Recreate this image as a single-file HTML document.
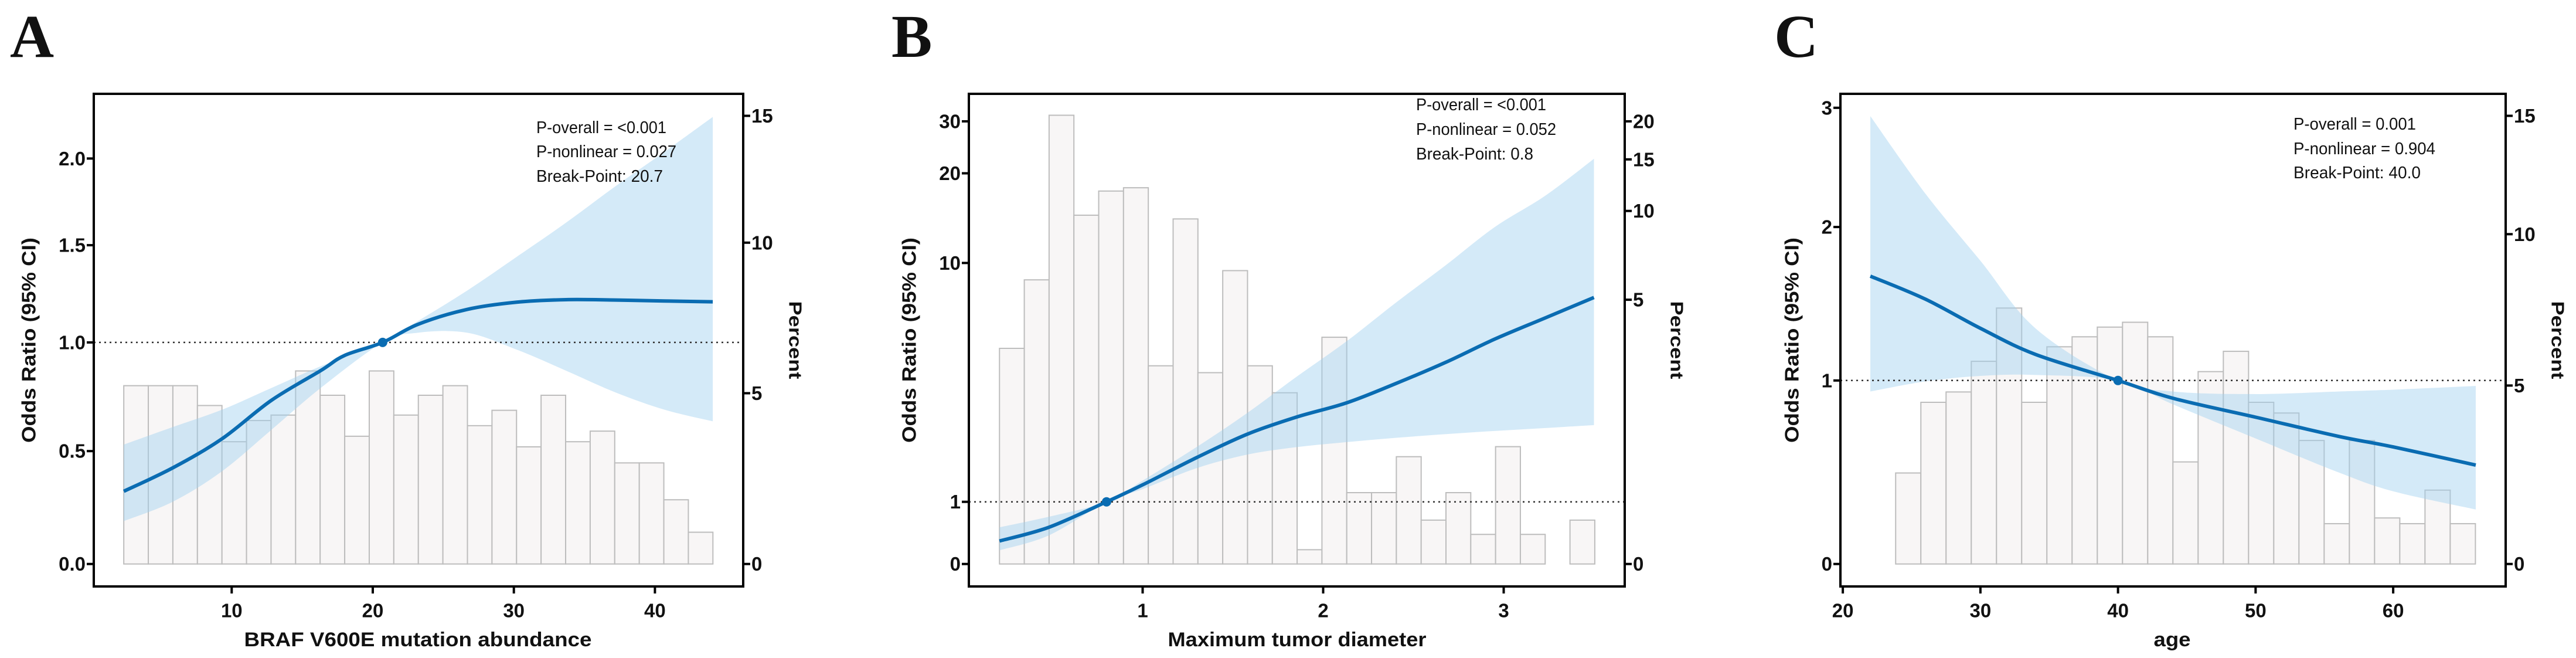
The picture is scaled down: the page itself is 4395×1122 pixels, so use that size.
<!DOCTYPE html>
<html><head><meta charset="utf-8"><style>
html,body{margin:0;padding:0;background:#fff;}
svg{display:block;}
text{font-family:"Liberation Sans",Arial,sans-serif;fill:#111;}
</style></head><body>
<svg id="fig" width="4395" height="1122" viewBox="0 0 4395 1122" xmlns="http://www.w3.org/2000/svg"></svg>
<script>
// ---------- Panel A data ----------
const aOrTicks=[0,0.5,1,1.5,2];
const aPctTicks=[0,5,10,15];
const aXTicks=[10,20,30,40];
const aBinStart=2.35, aBinWidth=1.74;
const aBarPct=[5.25,5.25,5.25,4.64,3.58,4.20,4.36,5.74,4.94,3.74,5.74,4.36,4.94,5.25,4.05,4.50,3.43,4.94,3.58,3.89,2.96,2.96,1.88,0.93];
const aCurveX=[2.35,5.8,9.3,12.8,16.3,18.0,20.7,23.2,26.7,30.2,33.7,37.2,40.7,44.1];
const aCurveOR=[0.322,0.425,0.556,0.733,0.870,0.940,1.0,1.093,1.17,1.207,1.22,1.218,1.213,1.209];
const aCIx=[2.35,5.8,9.3,12.8,16.3,20.7,23.2,26.7,30.2,33.7,37.2,40.7,44.1];
const aCIupper=[0.53,0.61,0.69,0.79,0.89,1.0,1.11,1.267,1.44,1.63,1.84,2.04,2.24];
const aCIlower=[0.19,0.275,0.41,0.597,0.79,1.0,1.05,1.05,0.967,0.87,0.77,0.69,0.637];
// ---------- Panel B data ----------
const bOrTicks=[0,1,10,20,30];
const bPctTicks=[0,5,10,15,20];
const bXTicks=[1,2,3];
const bBinStart=0.207, bBinWidth=0.1374;
const bBarPct=[4.08,6.12,20.8,9.76,11.93,12.25,3.75,9.55,3.62,6.64,3.75,3.24,0.27,4.29,1.35,1.35,2.03,0.83,1.35,0.56,2.22,0.56,0,0.83];
const bCurveX=[0.207,0.48,0.80,1.0,1.30,1.58,1.85,2.13,2.40,2.68,2.95,3.23,3.50];
const bCurveOR=[0.37,0.59,1.0,1.64,2.67,3.55,4.19,4.73,5.45,6.26,7.13,7.93,8.7];
const bCIupper=[0.59,0.76,1.0,1.8,3.07,4.35,5.7,7.05,8.49,9.92,14.0,17.5,22.8];
const bCIlower=[0.22,0.46,1.0,1.48,2.27,2.78,3.06,3.25,3.41,3.55,3.67,3.78,3.89];
// ---------- Panel C data ----------
const cOrTicks=[0,1,2,3];
const cPctTicks=[0,5,10,15];
const cXTicks=[20,30,40,50,60];
const cBinStart=23.84, cBinWidth=1.832;
const cBarPct=[2.55,4.53,4.82,5.80,7.56,4.53,6.28,6.61,6.93,7.09,6.61,2.86,5.46,6.13,4.53,4.23,3.46,1.13,3.46,1.29,1.13,2.07,1.13];
const cCurveX=[22,26,30,34,40,44,50,56,60,66];
const cCurveOR=[1.68,1.53,1.34,1.17,1.0,0.903,0.80,0.696,0.638,0.539];
const cCIupper=[2.93,2.28,1.78,1.34,1.0,0.94,0.926,0.94,0.95,0.97];
const cCIlower=[0.94,0.995,1.03,1.036,1.0,0.87,0.684,0.5,0.396,0.297];

const NS="http://www.w3.org/2000/svg";
const svg=document.getElementById('fig');
function mk(tag,attrs,parent){const e=document.createElementNS(NS,tag);for(const k in attrs)e.setAttribute(k,attrs[k]);(parent||svg).appendChild(e);return e;}
function interp(vals,pos){return v=>{let i=0;while(i<vals.length-2&&v>vals[i+1])i++;const t=(v-vals[i])/(vals[i+1]-vals[i]);return pos[i]+t*(pos[i+1]-pos[i]);};}
function smooth(pts){let d='M'+pts[0][0]+','+pts[0][1];for(let i=0;i<pts.length-1;i++){const p0=pts[i-1]||pts[i],p1=pts[i],p2=pts[i+1],p3=pts[i+2]||p2;const c1=[p1[0]+(p2[0]-p0[0])/6,p1[1]+(p2[1]-p0[1])/6],c2=[p2[0]-(p3[0]-p1[0])/6,p2[1]-(p3[1]-p1[1])/6];d+=' C'+c1[0]+','+c1[1]+' '+c2[0]+','+c2[1]+' '+p2[0]+','+p2[1];}return d;}
function smoothCont(pts){return smooth(pts).replace(/^M/,'L');}

function panel(cfg){
  const g=mk('g',{});
  
  
  const top=160,bot=1000;
  const xs=v=>cfg.x0+v*cfg.xk;
  const yOR=interp(cfg.orTicks,cfg.orPos);
  const yP=interp(cfg.pctTicks,cfg.pctPos);
  cfg.bars.forEach((p,i)=>{
    const x1=xs(cfg.binStart+i*cfg.binWidth),x2=xs(cfg.binStart+(i+1)*cfg.binWidth);
    const y=yP(p);
    const r=mk('rect',{x:x1,y:y,width:x2-x1,height:yP(0)-y,fill:'#f8f6f6',stroke:'#bdbdbd','stroke-width':2},g);
    
    
  });
  const up=cfg.ciX.map((v,i)=>[xs(v),yOR(cfg.ciU[i])]);
  const lo=cfg.ciX.map((v,i)=>[xs(v),yOR(cfg.ciL[i])]).reverse();
  const band=mk('path',{d:smooth(up)+' '+smoothCont(lo)+' Z',fill:'#9fd1f0','fill-opacity':0.45,stroke:'none'},g);
  
  
  const ref=mk('line',{x1:cfg.boxL,x2:cfg.boxR,y1:yOR(1),y2:yOR(1),stroke:'#333','stroke-width':2.5,'stroke-dasharray':'3 6'},g);
  
  
  const cp=cfg.cx.map((v,i)=>[xs(v),yOR(cfg.cy[i])]);
  const cur=mk('path',{d:smooth(cp),fill:'none',stroke:'#0a6cb2','stroke-width':6},g);
  
  
  const dot=mk('circle',{cx:xs(cfg.bp),cy:yOR(1),r:8,fill:'#0a6cb2'},g);
  
  
  const box=mk('rect',{x:cfg.boxL,y:top,width:cfg.boxR-cfg.boxL,height:bot-top,fill:'none',stroke:'#000','stroke-width':4},g);
  
  
  cfg.orTicks.forEach((v,i)=>{
    const y=yOR(v);
    mk('line',{x1:cfg.boxL-12,x2:cfg.boxL,y1:y,y2:y,stroke:'#000','stroke-width':4},g);
    const t=mk('text',{x:cfg.boxL-14,y:y,'text-anchor':'end','dominant-baseline':'central','font-size':33,'font-weight':'bold'},g);
    t.textContent=cfg.orLabels[i];
    
    
  });
  cfg.pctTicks.forEach(v=>{
    const y=yP(v);
    mk('line',{x1:cfg.boxR,x2:cfg.boxR+12,y1:y,y2:y,stroke:'#000','stroke-width':4},g);
    const t=mk('text',{x:cfg.boxR+14,y:y,'dominant-baseline':'central','font-size':33,'font-weight':'bold'},g);
    t.textContent=String(v);
    
    
  });
  cfg.xTicks.forEach(v=>{
    const x=xs(v);
    mk('line',{x1:x,x2:x,y1:bot,y2:bot+12,stroke:'#000','stroke-width':4},g);
    const t=mk('text',{x:x,y:1041,'text-anchor':'middle','dominant-baseline':'central','font-size':33,'font-weight':'bold'},g);
    t.textContent=String(v);
    
    
  });
  const xt=mk('text',{x:cfg.xtX,y:1091,'text-anchor':'middle','dominant-baseline':'central','font-size':34,'font-weight':'bold',textLength:cfg.xtLen,lengthAdjust:'spacingAndGlyphs'},g);
  xt.textContent=cfg.xTitle;
  
  
  const yt=mk('text',{x:0,y:0,'text-anchor':'middle','dominant-baseline':'central','font-size':33,'font-weight':'bold',textLength:350,lengthAdjust:'spacingAndGlyphs',transform:'translate('+cfg.ytX+',580) rotate(-90)'},g);
  yt.textContent='Odds Ratio (95% CI)';
  
  
  const rt=mk('text',{x:0,y:0,'text-anchor':'middle','dominant-baseline':'central','font-size':31,'font-weight':'bold',textLength:133,lengthAdjust:'spacingAndGlyphs',transform:'translate('+cfg.rtX+',580) rotate(90)'},g);
  rt.textContent='Percent';
  
  
  cfg.notes.forEach((n,i)=>{
    const t=mk('text',{x:cfg.noteX,y:cfg.noteY[i],'dominant-baseline':'central','font-size':29,textLength:cfg.noteLen[i],lengthAdjust:'spacingAndGlyphs'},g);
    t.textContent=n;
    
    
  });
  const L=mk('text',{x:cfg.letterX,y:97,'font-size':104,'font-weight':'bold',style:'font-family:"Liberation Serif","Times New Roman",serif'},g);
  L.textContent=cfg.letter;
  
  
}

panel({name:'panel-a',letter:'A',letterX:17,boxL:160,boxR:1268,x0:154.6,xk:24.07,
  orTicks:aOrTicks,orLabels:['0.0','0.5','1.0','1.5','2.0'],orPos:[961.7,769.2,583.9,418.1,270.3],
  pctTicks:aPctTicks,pctPos:[961.7,670.5,413.8,197.5],xTicks:aXTicks,
  bars:aBarPct,binStart:aBinStart,binWidth:aBinWidth,
  cx:aCurveX,cy:aCurveOR,ciX:aCIx,ciU:aCIupper,ciL:aCIlower,bp:20.7,
  xTitle:'BRAF V600E mutation abundance',xtX:713,xtLen:593,ytX:49,rtX:1357,
  notes:['P-overall = <0.001','P-nonlinear = 0.027','Break-Point: 20.7'],noteX:915,noteY:[218,259,301],noteLen:[222,239,216]});
panel({name:'panel-b',letter:'B',letterX:1521,boxL:1653,boxR:2772,x0:1641.5,xk:308,
  orTicks:bOrTicks,orLabels:['0','1','10','20','30'],orPos:[961.7,855.7,448.4,295.5,206.9],
  pctTicks:bPctTicks,pctPos:[961.7,511.1,359.7,271.8,206.9],xTicks:bXTicks,
  bars:bBarPct,binStart:bBinStart,binWidth:bBinWidth,
  cx:bCurveX,cy:bCurveOR,ciX:bCurveX,ciU:bCIupper,ciL:bCIlower,bp:0.8,
  xTitle:'Maximum tumor diameter',xtX:2213,xtLen:441,ytX:1551,rtX:2861,
  notes:['P-overall = <0.001','P-nonlinear = 0.052','Break-Point: 0.8'],noteX:2416,noteY:[179,221,263],noteLen:[222,239,200]});
panel({name:'panel-c',letter:'C',letterX:3027,boxL:3140,boxR:4275,x0:2674.6,xk:23.475,
  orTicks:cOrTicks,orLabels:['0','1','2','3'],orPos:[961.7,648.8,387.1,183.8],
  pctTicks:cPctTicks,pctPos:[961.7,657.4,399.3,197.5],xTicks:cXTicks,
  bars:cBarPct,binStart:cBinStart,binWidth:cBinWidth,
  cx:cCurveX,cy:cCurveOR,ciX:cCurveX,ciU:cCIupper,ciL:cCIlower,bp:40,
  xTitle:'age',xtX:3706,xtLen:63,ytX:3057,rtX:4364,
  notes:['P-overall = 0.001','P-nonlinear = 0.904','Break-Point: 40.0'],noteX:3913,noteY:[212,254,295],noteLen:[209,242,217]});
</script>
</body></html>
